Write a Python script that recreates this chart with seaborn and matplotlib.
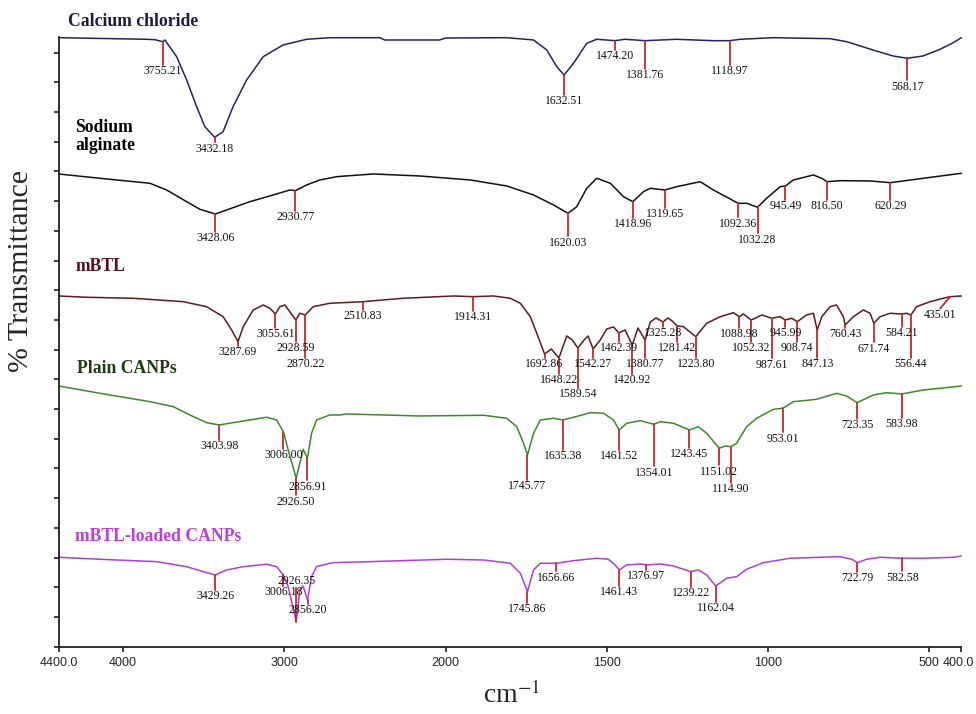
import numpy as np
import pandas as pd
import matplotlib
matplotlib.use("Agg")
import matplotlib.pyplot as plt
import seaborn as sns

# FTIR spectra: wavenumber (cm-1) and stacked transmittance (arbitrary units)
cacl2_wn = [4400, 3855, 3803, 3755.21, 3741, 3668, 3606, 3544, 3493, 3432.18, 3380, 3318, 3234, 3131,
            3008, 2862, 2718, 2408, 2377, 2036, 2000, 1810, 1727, 1686, 1655, 1632.51, 1603, 1562,
            1531, 1474.20, 1443, 1381.76, 1283, 1170, 1118.97, 1086, 984, 807, 756, 674, 612, 568.17,
            519, 466, 425, 400]
cacl2_t = [609, 607.4, 607, 605, 606.7, 590, 566.7, 540, 520, 509.4, 515, 540, 566.7, 590,
           601.7, 607.4, 609, 609, 606.7, 606.7, 608.7, 609, 606.7, 596.7, 580, 571.7, 583.4, 603.4,
           607.4, 606, 607.4, 606, 607.4, 606, 606, 607.4, 609, 608, 605, 596.7, 590.7, 588.4,
           590.7, 597.4, 604, 609]

alg_wn = [4400, 4144, 3834, 3730, 3606, 3524, 3428.06, 3358, 3214, 3069, 2966, 2930.77, 2862, 2780,
          2676, 2449, 2160, 1923, 1810, 1727, 1665, 1620.03, 1593, 1562, 1531, 1489, 1448, 1418.96,
          1386, 1365, 1319.65, 1283, 1210, 1169, 1092.36, 1066, 1032.28, 1004, 962, 945.49, 921, 859,
          833, 816.50, 776, 683, 620.29, 518, 400]
alg_t = [472.7, 468.4, 463.4, 456.7, 445, 437.4, 432.7, 436.7, 445, 451.7, 456.7, 456, 461.7, 466.7,
         470, 472.7, 470.7, 466.7, 460.7, 451.7, 441.7, 433.4, 440, 458.4, 468.4, 463.4, 450, 445,
         455, 458.4, 456.7, 460, 465, 456.7, 443.4, 443.4, 439.4, 448.4, 460, 460.7, 466.7, 471.7,
         468.4, 465, 466, 465.7, 464, 468.4, 473.4]

mbtl_wn = [4400, 4226, 3937, 3627, 3482, 3380, 3327, 3287.69, 3255, 3193, 3131, 3090, 3055.61, 3028,
           2997, 2966, 2928.59, 2904, 2870.22, 2821, 2718, 2510.83, 2264, 1975, 1914.31, 1851, 1799,
           1768, 1737, 1717, 1692.86, 1672, 1648.22, 1624, 1607, 1589.54, 1570, 1558, 1542.27, 1520,
           1500, 1479, 1462.39, 1443, 1420.92, 1403, 1380.77, 1365, 1347, 1325.28, 1310, 1297,
           1281.42, 1262, 1223.80, 1190, 1148, 1107, 1088.98, 1076, 1052.32, 1040, 1019, 987.61, 962,
           945.99, 926, 908.74, 880, 859, 847.13, 833, 807, 787, 766, 760.43, 735, 704, 683, 671.74,
           652, 621, 584.21, 570, 556.44, 539, 497, 456, 435.01, 400]
mbtl_t = [350.7, 349.4, 348.4, 345, 340, 330, 316.7, 305, 320, 336.7, 341.7, 338.4, 332.7, 340,
          341.7, 335, 326.7, 333.4, 331.7, 340, 343.4, 345, 348.4, 350.7, 350, 350.7, 348.4,
          343.4, 330, 313.4, 292.7, 297.7, 288.7, 310.7, 306.7, 298.7, 306.7, 310.7, 297.7, 306.7,
          317.7, 319.7, 313.7, 316.7, 301.7, 318.7, 306.7, 324.7, 328.7, 324.7, 328.7, 325.7,
          320.7, 320, 310, 323.4, 330, 334, 330, 332.7, 326.7, 328.4, 331.7, 328.4, 330,
          326.7, 328.4, 325, 331.7, 333.4, 316.7, 330, 340, 341.7, 330, 321.7, 330, 336.7, 333.4, 323.4,
          330, 333.4, 332.7, 333.4, 331.7, 340, 345, 348.4, 350, 350.7]

plain_wn = [4400, 4144, 3834, 3689, 3586, 3482, 3403.98, 3318, 3214, 3110, 3048, 3006.00, 2976,
            2926.50, 2904, 2883, 2856.91, 2831, 2800, 2718, 2656, 2614, 2160, 1882, 1810, 1779, 1758,
            1745.77, 1727, 1706, 1665, 1635.38, 1603, 1551, 1510, 1479, 1461.52, 1438, 1396, 1354.01,
            1334, 1293, 1243.45, 1216, 1190, 1151.02, 1133, 1114.90, 1097, 1066, 1035, 983, 953.01,
            921, 849, 787, 756, 723.35, 673, 632, 583.98, 518, 466, 400]
plain_t = [260.7, 253.4, 245, 240, 231.7, 224, 221.7, 224, 226.7, 229.4, 226.7, 215, 196.7,
           168.4, 183.4, 197.4, 188.4, 213.4, 226.7, 231.7, 231.7, 232.7, 230.7, 231.4, 228.4, 220, 203.4,
           191.7, 213.4, 226.7, 228.4, 226.7, 229.4, 234, 233.4, 226.7, 216.7, 223.4, 226, 222.4,
           225, 223.4, 216.7, 220, 213.4, 198.4, 200.7, 200, 203.4, 220, 228.4, 237.4, 238.4,
           245, 247.4, 253.4, 250.7, 244, 251.7, 254, 252.7, 256.7, 258.4, 260.7]

loaded_wn = [4400, 4144, 3792, 3606, 3503, 3429.26, 3358, 3255, 3110, 3048, 3006.18, 2976, 2926.35,
             2904, 2883, 2856.20, 2831, 2800, 2718, 2697, 2470, 1996, 1882, 1799, 1768, 1745.86, 1727,
             1706, 1656.66, 1603, 1531, 1495, 1474, 1461.43, 1438, 1396, 1376.97, 1334, 1293, 1239.22,
             1216, 1190, 1162.04, 1128, 1097, 1066, 1014, 931, 776, 740, 722.79, 694, 652, 582.58, 518,
             425, 400]
loaded_t = [89.4, 87.4, 85, 80, 75, 71.7, 76.7, 80, 82.4, 80, 71.7, 60, 25,
            56.7, 60.7, 46.7, 70, 80, 83.4, 84, 85, 87.4, 86.7, 83.4, 73.4, 55, 76.7,
            83.4, 83.4, 86, 88.4, 87.4, 81.7, 76.7, 81.7, 82.7, 81.7, 82.7, 80.7, 75,
            76.7, 71.7, 60.7, 68.4, 70, 77.4, 84, 88.4, 90, 87.4, 84, 87.4, 89.4, 88.4, 88.4,
            89.4, 90.7]

# labelled peaks and how far the red marker drops below the curve
cacl2_peaks = [3755.21, 3432.18, 1632.51, 1474.20, 1381.76, 1118.97, 568.17]
cacl2_drop = [23, 5, 20, 9, 28, 24, 22]
alg_peaks = [3428.06, 2930.77, 1620.03, 1418.96, 1319.65, 1092.36, 1032.28, 945.49, 816.50, 620.29]
alg_drop = [18, 20, 23, 16, 18, 14, 26, 14, 18, 17]
mbtl_peaks = [3287.69, 3055.61, 2928.59, 2870.22, 2510.83, 1914.31, 1692.86, 1648.22, 1589.54,
              1542.27, 1462.39, 1420.92, 1380.77, 1325.28, 1281.42, 1223.80, 1088.98, 1052.32,
              987.61, 945.99, 908.74, 847.13, 760.43, 671.74, 584.21, 556.44, 435.01]
mbtl_drop = [4, 14, 22, 43, 8, 14, 4, 16, 40, 9, 9, 29, 18, 5, 16, 21, 11, 22, 40, 7, 20, 28,
             3, 19, 13, 43, 12]
plain_peaks = [3403.98, 3006.00, 2926.50, 2856.91, 1745.77, 1635.38, 1461.52, 1354.01, 1243.45,
               1151.02, 1114.90, 953.01, 723.35, 583.98]
plain_drop = [15, 17, 17, 22, 25, 30, 20, 42, 18, 17, 36, 24, 16, 24]
loaded_peaks = [3429.26, 3006.18, 2926.35, 2856.20, 1745.86, 1656.66, 1461.43, 1376.97, 1239.22,
                1162.04, 722.79, 582.58]
loaded_drop = [15, 11, -34, 4, 11, 8, 16, 5, 15, 16, 9, 13]

names = ["Calcium chloride", "Sodium alginate", "mBTL", "Plain CANPs", "mBTL-loaded CANPs"]
curve_colors = ["#23235e", "#111111", "#5e1a1c", "#3d8a2a", "#ad40d2"]
title_colors = ["#1b1b45", "#000000", "#5a0f1f", "#1f3c12", "#bb3fdc"]

spectra = [(cacl2_wn, cacl2_t), (alg_wn, alg_t), (mbtl_wn, mbtl_t), (plain_wn, plain_t), (loaded_wn, loaded_t)]
peaks = [(cacl2_peaks, cacl2_drop), (alg_peaks, alg_drop), (mbtl_peaks, mbtl_drop),
         (plain_peaks, plain_drop), (loaded_peaks, loaded_drop)]

df = pd.concat([pd.DataFrame({"wn": w, "T": t, "sample": n}) for (w, t), n in zip(spectra, names)])


# FTIR x axis: scale doubles below 2000 cm-1
def fwd(w):
    w = np.asarray(w, dtype=float)
    return np.where(w >= 2000, w, 2 * w - 2000)


def inv(v):
    v = np.asarray(v, dtype=float)
    return np.where(v >= 2000, v, (v + 2000) / 2)


sns.set_style("ticks")
plt.rcParams["mathtext.fontset"] = "stix"

fig = plt.figure(figsize=(9.76, 7.14), dpi=100)
ax = fig.add_axes([0.0601, 0.0943, 0.9249, 0.8539])
ax.set_xscale("function", functions=(fwd, inv))

sns.lineplot(data=df, x="wn", y="T", hue="sample", palette=dict(zip(names, curve_colors)),
             sort=False, estimator=None, legend=False, linewidth=1.1, ax=ax)
for line in ax.lines:
    line.set_clip_on(False)

red = "#c3282e"
for (w, t), (pk, dr) in zip(spectra, peaks):
    for p, d in zip(pk, dr):
        y0 = np.interp(p, w[::-1], t[::-1])
        lx = p + 31 if p == 435.01 else p
        ax.plot([p, lx], [y0, y0 - d], color=red, lw=1.3, clip_on=False)
        if d >= 0:
            ax.text(lx, y0 - d - 0.5, f"{p:.2f}", ha="center", va="top", fontsize=8.5,
                    family="Liberation Serif", color="#111111")
        else:
            ax.text(lx, y0 - d + 1, f"{p:.2f}", ha="center", va="bottom", fontsize=8.5,
                    family="Liberation Serif", color="#111111")

ax.set_xlim(4400, 400)
ax.set_ylim(0, 609.7)
ax.set_xticks([4400, 4000, 3000, 2000, 1500, 1000, 500, 400])
ax.set_xticklabels(["4400.0", "4000", "3000", "2000", "1500", "1000", "500", ""],
                   family="Liberation Sans", fontsize=9)
# last tick label nudged left so it stays inside the figure
ax.annotate("400.0", xy=(400, 0), xycoords=("data", "axes fraction"), xytext=(-2, -7.5),
            textcoords="offset points", ha="center", va="top", family="Liberation Sans", fontsize=9)
ax.xaxis.set_minor_locator(matplotlib.ticker.NullLocator())
ax.set_yticks(np.arange(0, 600, 29.7))
ax.set_yticklabels([])
ax.tick_params(axis="both", direction="out", length=3.5, width=1.2, color="#222222", pad=4)
ax.set_xlabel("")
ax.set_ylabel("")
sns.despine(ax=ax)
for s in ["left", "bottom"]:
    ax.spines[s].set_linewidth(1.3)
    ax.spines[s].set_color("#222222")

# sample names
title_pos = [(0.0697, 0.9696), (0.0768, 0.8088), (0.0779, 0.6265), (0.0789, 0.4832), (0.0768, 0.2483)]
title_text = ["Calcium chloride", "Sodium\nalginate", "mBTL", "Plain CANPs", "mBTL-loaded CANPs"]
for (x, y), txt, c in zip(title_pos, title_text, title_colors):
    fig.text(x, y, txt, ha="left", va="center", fontsize=12.7, fontweight="bold",
             family="Liberation Serif", color=c, linespacing=1.1)

fig.text(0.0215, 0.62, "% Transmittance", rotation=90, ha="center", va="center",
         fontsize=21.5, family="Liberation Serif")
fig.text(0.5246, 0.026, r"cm$^{-1}$", ha="center", va="center", fontsize=20, family="Liberation Serif")

fig.savefig("out.png", dpi=100)
